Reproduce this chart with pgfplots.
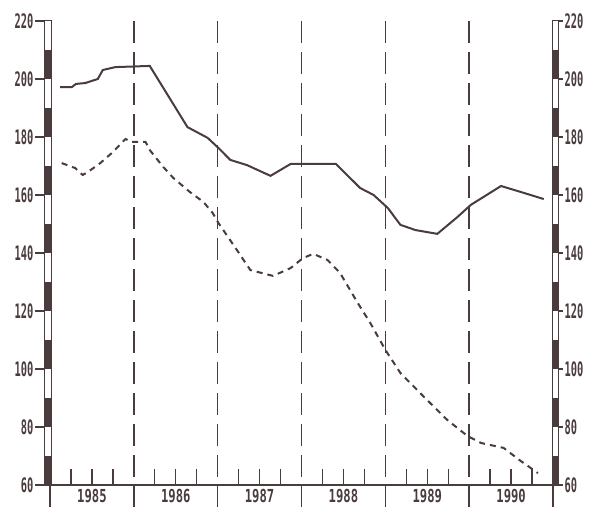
\documentclass[border=0pt]{standalone}
\usepackage{pgfplots}
\pgfplotsset{compat=1.18}
\usepackage{fontspec}
\newfontfamily\dotfont[FakeStretch=0.52]{DejaVu Sans Mono}
\newfontfamily\xdotfont[FakeStretch=0.68]{DejaVu Sans Mono}
\newcommand\labfont{\dotfont\bfseries\fontsize{20}{20}\selectfont}
\newcommand\xlabfont{\xdotfont\bfseries\fontsize{18}{18}\selectfont}
\definecolor{ink}{HTML}{4A3B3D}

\begin{document}
\begin{tikzpicture}[x=1bp,y=1bp]
\begin{axis}[
  at={(0,0)}, anchor=south west,
  scale only axis, width=503bp, height=464bp,
  xmin=1985, xmax=1991, ymin=60, ymax=220,
  axis x line*=bottom, axis y line*=left,
  y axis line style={draw=none,-},
  x axis line style={ink, line width=1.6bp,-},
  xtick={1985.5,1986.5,1987.5,1988.5,1989.5,1990.5},
  xticklabels={{\xlabfont 1985},{\xlabfont 1986},{\xlabfont 1987},{\xlabfont 1988},{\xlabfont 1989},{\xlabfont 1990}},
  x tick style={draw=none},
  ytick={60,80,...,220},
  yticklabel={\labfont\pgfmathprintnumber[int detect]{\tick}},
  y tick style={ink, line width=1.4bp},
  tick align=outside, major tick length=15bp,
  yticklabel style={text=ink, inner sep=1.5bp},
  xticklabel style={text=ink, inner sep=1bp, yshift=12.5bp},
  /pgf/number format/assume math mode=true,
  clip=false,
]
\addplot[ink, line width=2bp] coordinates {
(1985.12,197.2) (1985.26,197.2) (1985.31,198.3) (1985.42,198.6) (1985.57,200.0)
(1985.63,203.1) (1985.78,204.1) (1986.19,204.5) (1986.64,183.4) (1986.88,179.7)
(1987.01,176.2) (1987.15,172.1) (1987.35,170.3) (1987.63,166.6) (1987.87,170.7)
(1988.41,170.7) (1988.70,162.4) (1988.86,160.0) (1989.03,155.5) (1989.18,149.7)
(1989.36,147.9) (1989.62,146.6) (1989.86,152.4) (1990.02,156.6) (1990.38,163.1)
(1990.62,161.0) (1990.89,158.6)
};
\addplot[ink, line width=2bp, dash pattern=on 6bp off 5bp] coordinates {
(1985.14,171.0) (1985.30,169.3) (1985.39,166.9) (1985.45,167.9) (1985.60,171.0)
(1985.75,174.8) (1985.90,179.3) (1985.98,178.3) (1986.14,178.3) (1986.19,175.5)
(1986.35,169.7) (1986.47,165.9) (1986.67,161.0) (1986.83,157.6) (1986.94,153.8)
(1987.01,150.3) (1987.23,141.0) (1987.39,134.1) (1987.66,132.1) (1987.87,134.8)
(1988.02,138.3) (1988.14,139.7) (1988.31,137.6) (1988.46,133.1) (1988.67,122.8)
(1988.82,115.9) (1989.00,106.6) (1989.18,98.6) (1989.46,90.4) (1989.74,82.4)
(1989.98,76.9) (1990.14,74.5) (1990.41,72.8) (1990.60,68.6) (1990.82,64.1)
};
\end{axis}
\begin{axis}[
  at={(0,0)}, anchor=south west,
  scale only axis, width=503bp, height=464bp,
  xmin=1985, xmax=1991, ymin=60, ymax=220,
  axis x line=none, axis y line*=right,
  y axis line style={draw=none,-},
  ytick={60,80,...,220},
  yticklabel={\labfont\pgfmathprintnumber[int detect]{\tick}},
  y tick style={ink, line width=1.4bp},
  tick align=outside, major tick length=10bp,
  yticklabel style={text=ink, inner sep=1.5bp},
  /pgf/number format/assume math mode=true,
]
\addplot[draw=none] coordinates {(1985,60) (1991,220)};
\end{axis}
% x ticks and year separators
\foreach \y in {0,...,5} {
  \foreach \q in {1,2,3} {
    \draw[ink, line width=1.4bp] ({\y*83.8333+\q*20.9583},0) -- ++(0,16);
  }
}
\foreach \y in {0,...,6} {
  \draw[ink, line width=1.4bp] ({\y*83.8333},0) -- ++(0,-22);
}
\foreach \y in {1,...,5} {
  \draw[ink, line width=1.5bp, dash pattern=on 22bp off 9bp] ({\y*83.8333},464) -- ({\y*83.8333},0);
}
% striped axis bars
\foreach \xa/\xb in {-5/2, 502/508} {
  \fill[white] (\xa,0) rectangle (\xb,464);
  \foreach \k in {0,...,7} {
    \fill[ink] (\xa,{58*\k}) rectangle (\xb,{58*\k+29});
  }
  \draw[ink, line width=1bp] (\xa,0) rectangle (\xb,464);
}
\pgfresetboundingbox
\path (-50,-22) rectangle (547,485);
\end{tikzpicture}
\end{document}
